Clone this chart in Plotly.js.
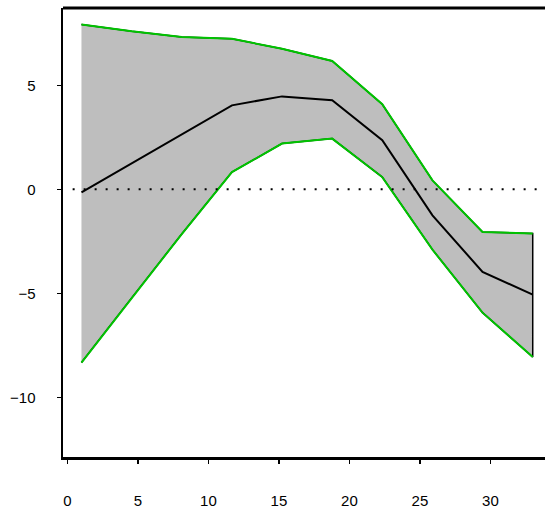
<!DOCTYPE html>
<html>
<head>
<meta charset="utf-8">
<script src="https://cdn.plot.ly/plotly-3.0.1.min.js"></script>
<style>
  html, body { margin: 0; padding: 0; background: #ffffff; }
  #chart { width: 545px; height: 508px; }
</style>
</head>
<body>
<div id="chart"></div>
<script>
// Horizon positions
const xs = [1.00, 4.56, 8.11, 11.67, 15.22, 18.78, 22.33, 25.89, 29.44, 33.00];
// Point estimate
const estimate = [-0.15, 1.25, 2.64, 4.04, 4.47, 4.28, 2.36, -1.25, -3.97, -5.06];
// Upper and lower confidence bounds
const upper = [7.93, 7.60, 7.33, 7.24, 6.76, 6.17, 4.09, 0.43, -2.05, -2.12];
const lower = [-8.33, -5.22, -2.15, 0.83, 2.20, 2.44, 0.59, -2.90, -5.93, -8.06];
// Axis ticks
const xTicks = [0, 5, 10, 15, 20, 25, 30];
const yTicks = [-10, -5, 0, 5];

const green = '#00c400';

const band = {
  x: xs.concat(xs.slice().reverse()),
  y: upper.concat(lower.slice().reverse()),
  type: 'scatter', mode: 'lines', fill: 'toself',
  fillcolor: '#bebebe',
  line: { color: '#000000', width: 1.5 },
  hoverinfo: 'skip', showlegend: false
};
const upperLine = {
  x: xs, y: upper, type: 'scatter', mode: 'lines',
  line: { color: green, width: 2 }, showlegend: false
};
const lowerLine = {
  x: xs, y: lower, type: 'scatter', mode: 'lines',
  line: { color: green, width: 2 }, showlegend: false
};
const centerLine = {
  x: xs, y: estimate, type: 'scatter', mode: 'lines',
  line: { color: '#000000', width: 2 }, showlegend: false
};

const axisFont = { family: 'Liberation Sans, Arial, sans-serif', size: 15, color: '#000000' };

const layout = {
  width: 545, height: 508,
  margin: { l: 63, r: 0, t: 8, b: 51 },
  paper_bgcolor: '#ffffff', plot_bgcolor: '#ffffff',
  showlegend: false,
  xaxis: {
    range: [-0.31, 33.87],
    tickmode: 'array', tickvals: xTicks, ticktext: xTicks.map(String),
    ticks: 'outside', ticklen: 4, tickwidth: 1.5, tickcolor: '#000000',
    ticklabelstandoff: 24,
    showline: true, linecolor: '#000000', linewidth: 2.5,
    showgrid: false, zeroline: false,
    tickfont: axisFont
  },
  yaxis: {
    range: [-12.87, 8.72],
    tickmode: 'array', tickvals: yTicks, ticktext: yTicks.map(v => v < 0 ? '\u2212' + Math.abs(v) : String(v)),
    ticks: 'outside', ticklen: 4, tickwidth: 1.5, tickcolor: '#000000',
    ticklabelstandoff: 18,
    showline: true, linecolor: '#000000', linewidth: 2.5,
    showgrid: false, zeroline: false,
    tickfont: axisFont
  },
  shapes: [
    // frame line along the top of the plotting area
    { type: 'line', xref: 'paper', yref: 'paper', x0: 0, x1: 1, y0: 1, y1: 1,
      line: { color: '#000000', width: 3 } },
    // dotted reference line at zero
    { type: 'line', xref: 'paper', yref: 'y', x0: 0.02, x1: 1, y0: 0, y1: 0,
      line: { color: '#000000', width: 2, dash: '2px,9px' }, layer: 'above' }
  ]
};

Plotly.newPlot('chart', [band, upperLine, lowerLine, centerLine], layout, { displayModeBar: false, staticPlot: true });
</script>
</body>
</html>
